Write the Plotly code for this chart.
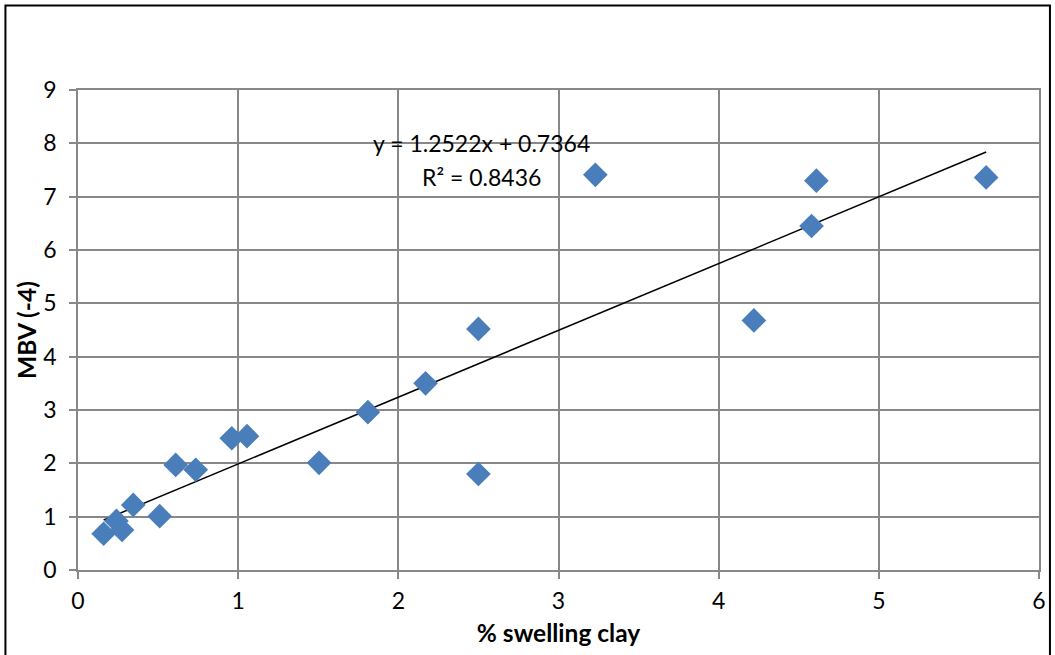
import plotly.graph_objects as go

swelling_clay = [0.16, 0.24, 0.275, 0.345, 0.51, 0.61, 0.735, 0.96, 1.055, 1.505, 1.81, 2.17, 2.50, 2.50, 3.23, 4.22, 4.58, 4.61, 5.67]
mbv = [0.68, 0.92, 0.75, 1.22, 1.01, 1.97, 1.88, 2.47, 2.51, 2.01, 2.96, 3.50, 4.52, 1.80, 7.41, 4.68, 6.45, 7.30, 7.36]

slope = 1.2522
intercept = 0.7364
r2 = 0.8436

x_ticks = [0, 1, 2, 3, 4, 5, 6]
y_ticks = [0, 1, 2, 3, 4, 5, 6, 7, 8, 9]

xmin, xmax = min(swelling_clay), max(swelling_clay)
trend_x = [xmin, xmax]
trend_y = [slope * v + intercept for v in trend_x]

FONT = "Lato, 'Open Sans', 'Liberation Sans', sans-serif"
GRID = "#888888"

fig = go.Figure()
fig.add_trace(go.Scatter(
    x=trend_x, y=trend_y, mode="lines",
    line=dict(color="black", width=1.5), showlegend=False, hoverinfo="skip"))
fig.add_trace(go.Scatter(
    x=swelling_clay, y=mbv, mode="markers",
    marker=dict(symbol="diamond", size=19, color="#4A7EBB"),
    showlegend=False))

fig.add_annotation(x=0.42, y=0.923, xref="paper", yref="paper",
                   text=f"y = {slope}x + {intercept}", showarrow=False,
                   font=dict(family=FONT, size=23, color="black"))
fig.add_annotation(x=0.42, y=0.852, xref="paper", yref="paper",
                   text=f"R² = {r2}", showarrow=False,
                   font=dict(family=FONT, size=23, color="black"))

# outer chart border
fig.add_shape(type="rect", xref="paper", yref="paper",
              x0=-0.0755, x1=1.0114, y0=-0.2, y1=1.176,
              line=dict(color="black", width=2), layer="below")

fig.update_layout(
    width=1055, height=655,
    margin=dict(l=78, r=16, t=90, b=85, autoexpand=False),
    paper_bgcolor="white", plot_bgcolor="white",
    font=dict(family=FONT, size=23, color="black"),
    xaxis=dict(range=[0, 6], tickvals=x_ticks, showgrid=True, gridcolor=GRID, gridwidth=1.5,
               showline=True, linecolor=GRID, linewidth=1.5, mirror=True,
               ticks="outside", ticklen=7, tickcolor=GRID, tickwidth=1.5,
               zeroline=False, tickfont=dict(size=23), ticklabelstandoff=3,
               automargin=False,
               title=dict(text="<b>% swelling clay</b>", font=dict(size=24.5), standoff=12)),
    yaxis=dict(range=[0, 9], tickvals=y_ticks, showgrid=True, gridcolor=GRID, gridwidth=1.5,
               showline=True, linecolor=GRID, linewidth=1.5, mirror=True,
               ticks="outside", ticklen=7, tickcolor=GRID, tickwidth=1.5,
               zeroline=False, tickfont=dict(size=23), ticklabelstandoff=8,
               automargin=False,
               title=dict(text="<b>MBV (-4)</b>", font=dict(size=24.5), standoff=0)),
)

fig.write_html("out.html")
